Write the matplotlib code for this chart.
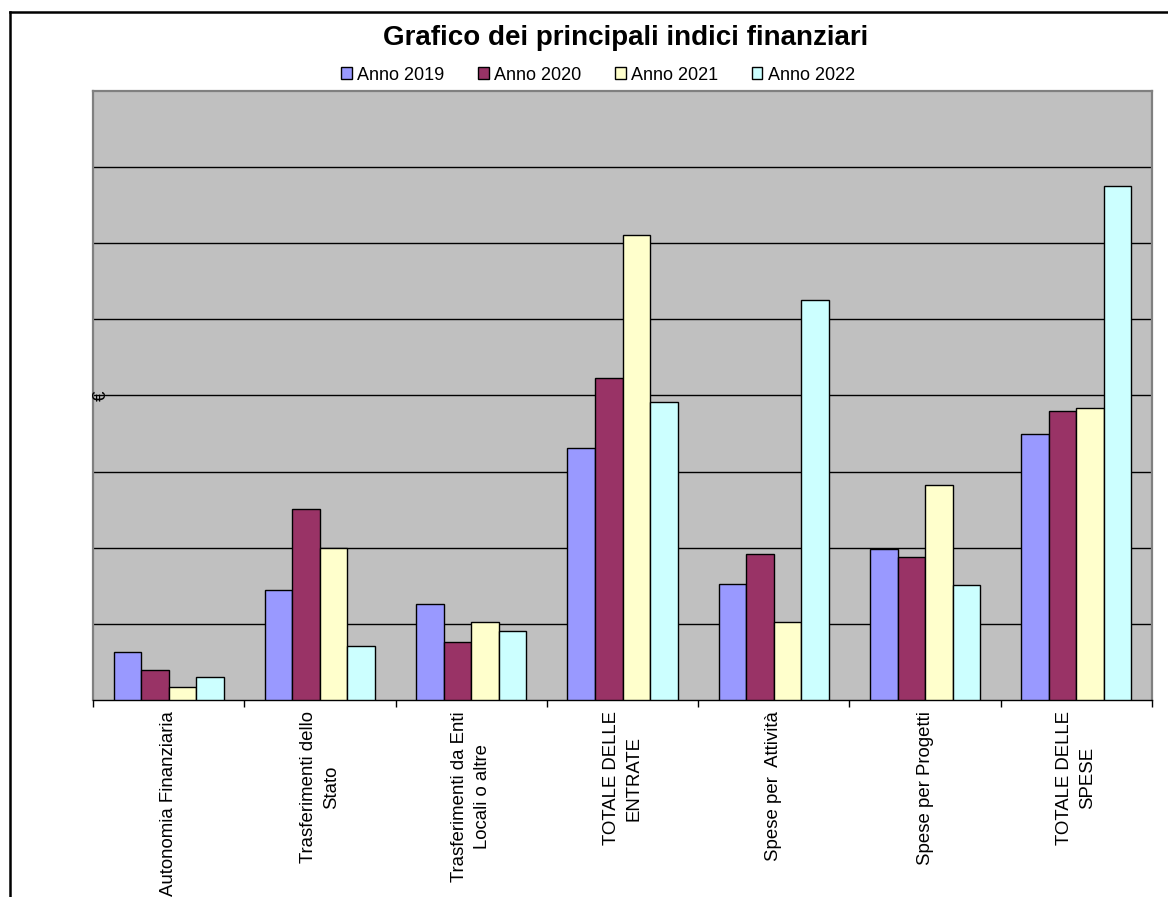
import matplotlib
matplotlib.use("Agg")
import matplotlib.pyplot as plt
import numpy as np
from matplotlib.lines import Line2D

plt.rcParams['font.family'] = ['Liberation Sans', 'DejaVu Sans']

categories = ["Autonomia Finanziaria", "Trasferimenti dello\nStato",
              "Trasferimenti da Enti\nLocali o altre", "TOTALE DELLE\nENTRATE",
              "Spese per  Attività", "Spese per Progetti", "TOTALE DELLE\nSPESE"]
series_names = ["Anno 2019", "Anno 2020", "Anno 2021", "Anno 2022"]
anno_2019 = [0.63, 1.45, 1.26, 3.31, 1.52, 1.98, 3.50]
anno_2020 = [0.40, 2.51, 0.76, 4.23, 1.92, 1.88, 3.80]
anno_2021 = [0.17, 2.00, 1.02, 6.11, 1.02, 2.83, 3.84]
anno_2022 = [0.30, 0.71, 0.91, 3.92, 5.26, 1.51, 6.75]
colors = ["#9999FF", "#993366", "#FFFFCC", "#CCFFFF"]

W, H = 1168, 897
fig = plt.figure(figsize=(W/100, H/100), dpi=100)
ax = fig.add_axes([93/W, 1-700/H, (1152-93)/W, (700-91)/H])
ax.set_facecolor("#C0C0C0")

data = [anno_2019, anno_2020, anno_2021, anno_2022]
n = len(categories)
x = np.arange(n)
w = 1/5.5
for j, (vals, c, name) in enumerate(zip(data, colors, series_names)):
    ax.bar(x + (j-1.5)*w, vals, width=w, color=c, edgecolor="black",
           linewidth=1.0, label=name, zorder=3)

ax.set_xlim(-0.5, n-0.5)
ax.set_ylim(0, 8)
ax.set_yticks(np.arange(1, 8))
ax.yaxis.grid(True, color="black", linewidth=1.0, zorder=1)
ax.tick_params(axis='y', length=0, labelleft=False)
ax.set_axisbelow(True)

ax.set_xticks(x)
ax.set_xticklabels(categories, rotation=90, fontsize=13.4, va='top', ha='center',
                   multialignment='center', linespacing=1.45)
ax.set_xticks(np.arange(-0.5, n), minor=True)
ax.tick_params(axis='x', which='major', length=0, pad=8)
ax.tick_params(axis='x', which='minor', length=5, width=1, color='black', direction='out')

for s in ['left', 'top', 'right']:
    ax.spines[s].set_color("#808080")
    ax.spines[s].set_linewidth(1.6)
ax.spines['bottom'].set_color("black")
ax.spines['bottom'].set_linewidth(1.0)

fig.text(101/W, 1-396/H, "€", rotation=90, ha='center', va='center', fontsize=13.4)

fig.text(626/W, 1-38/H, "Grafico dei principali indici finanziari", ha='center', va='center',
         fontsize=20, fontweight='bold')

leg = fig.legend(loc='center', bbox_to_anchor=(598/W, 1-75/H), ncol=4, frameon=False,
                 fontsize=13, handlelength=0.6, handleheight=0.6, handletextpad=0.3,
                 columnspacing=1.85, borderpad=0, borderaxespad=0)
for h in leg.legend_handles:
    h.set_edgecolor("black")
    h.set_linewidth(1.0)

# outer chart frame
fig.add_artist(Line2D([9.5/W, 9.5/W], [0, 1-12.5/H], transform=fig.transFigure, color='black', lw=1.8))
fig.add_artist(Line2D([9.5/W, 1], [1-12.5/H, 1-12.5/H], transform=fig.transFigure, color='black', lw=1.8))

fig.savefig("out.png", dpi=100)
